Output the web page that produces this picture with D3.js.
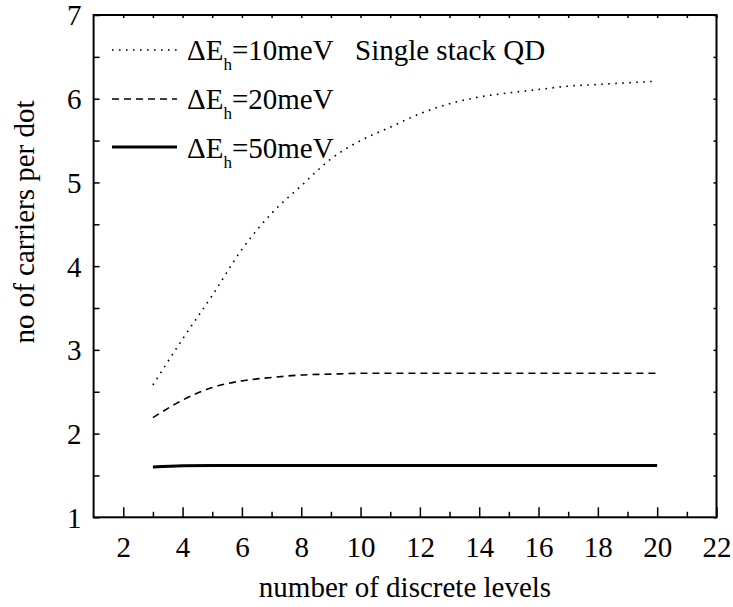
<!DOCTYPE html>
<html>
<head>
<meta charset="utf-8">
<script src="https://cdn.jsdelivr.net/npm/d3@7"></script>
<style>
  body { margin: 0; }
  svg text, svg tspan { font-family: 'Liberation Serif', Tinos, 'Times New Roman', serif !important; }
</style>
</head>
<body>
<svg id="fig" width="733" height="607"></svg>
<script>
// ---- data ----
const levels = [3, 4, 5, 6, 7, 8, 9, 10, 11, 12, 13, 14, 15, 16, 17, 18, 19, 20];
const dE10 = [2.58, 3.13, 3.65, 4.20, 4.63, 4.96, 5.28, 5.50, 5.66, 5.82, 5.94, 6.02, 6.07, 6.11, 6.15, 6.17, 6.19, 6.21];
const dE20 = [2.19, 2.40, 2.55, 2.63, 2.67, 2.70, 2.71, 2.72, 2.72, 2.72, 2.72, 2.72, 2.72, 2.72, 2.72, 2.72, 2.72, 2.72];
const dE50 = [1.60, 1.615, 1.62, 1.62, 1.62, 1.62, 1.62, 1.62, 1.62, 1.62, 1.62, 1.62, 1.62, 1.62, 1.62, 1.62, 1.62, 1.62];
const seriesNames = ["10meV", "20meV", "50meV"];
const xMajorTicks = [2, 4, 6, 8, 10, 12, 14, 16, 18, 20, 22];
const xMinorTicks = [3, 5, 7, 9, 11, 13, 15, 17, 19, 21];
const yMajorTicks = [1, 2, 3, 4, 5, 6, 7];
const yMinorTicks = [1.5, 2.5, 3.5, 4.5, 5.5, 6.5];
const xTitle = "number of discrete levels";
const yTitle = "no of carriers per dot";
const annotation = "Single stack QD";

// ---- layout ----
const FS = 29;
const svg = d3.select("#fig");
const L = 93.6, R = 716.5, T = 15, B = 517.3;
const x = d3.scaleLinear().domain([1, 22]).range([L, R]);
const y = d3.scaleLinear().domain([1, 7]).range([B, T]);
function font(sel, size) {
  return sel.attr("font-size", size || FS)
    .style("font-family", "'Liberation Serif'", "important").attr("fill", "#000");
}

// bottom axis (major + minor, inward ticks)
const gB = svg.append("g").attr("transform", `translate(0,${B})`);
gB.call(d3.axisBottom(x).tickValues(xMajorTicks).tickSize(-10).tickFormat(d3.format("d")));
gB.append("g").call(d3.axisBottom(x).tickValues(xMinorTicks).tickSize(-5.5).tickFormat(""));
// left axis
const gL = svg.append("g").attr("transform", `translate(${L},0)`);
gL.call(d3.axisLeft(y).tickValues(yMajorTicks).tickSize(-6).tickFormat(d3.format("d")));
gL.append("g").call(d3.axisLeft(y).tickValues(yMinorTicks).tickSize(-6).tickFormat(""));
// top axis
const gT = svg.append("g").attr("transform", `translate(0,${T})`);
gT.call(d3.axisTop(x).tickValues(xMajorTicks.concat(xMinorTicks)).tickSize(-3).tickFormat(""));
// right axis
const gR = svg.append("g").attr("transform", `translate(${R},0)`);
gR.call(d3.axisRight(y).tickValues(yMajorTicks.concat(yMinorTicks)).tickSize(-3).tickFormat(""));

svg.selectAll(".domain").remove();
[gB, gL, gT, gR].forEach(g => g.attr("font-family", null).attr("font-size", FS));
svg.selectAll(".tick line").attr("stroke", "#000").attr("stroke-width", 1.5);
font(svg.selectAll(".tick text"));
gB.selectAll(".tick text").attr("dy", null).attr("y", 40);
gL.selectAll(".tick text").attr("x", -12).attr("dy", "0.34em");

// frame
svg.append("rect").attr("x", L).attr("y", T).attr("width", R - L).attr("height", B - T)
  .attr("fill", "none").attr("stroke", "#000").attr("stroke-width", 2);

// series
const styles = [
  { data: dE10, width: 1.6, dash: "1.6,5.4" },
  { data: dE20, width: 1.6, dash: "7,5" },
  { data: dE50, width: 3, dash: null }
];
const line = d3.line().x((d, i) => x(levels[i])).y(d => y(d)).curve(d3.curveMonotoneX);
styles.forEach(s => {
  svg.append("path").datum(s.data).attr("d", line)
    .attr("fill", "none").attr("stroke", "#000").attr("stroke-width", s.width)
    .attr("stroke-dasharray", s.dash);
});

// legend
const legY = [50, 99, 147];
const legTextY = [60, 109, 158];
styles.forEach((s, i) => {
  svg.append("line").attr("x1", 112).attr("x2", 177).attr("y1", legY[i]).attr("y2", legY[i])
    .attr("stroke", "#000").attr("stroke-width", s.width).attr("stroke-dasharray", s.dash);
  const t = font(svg.append("text").attr("x", 187).attr("y", legTextY[i]));
  t.append("tspan").text("\u0394E");
  t.append("tspan").attr("font-size", 17).attr("dy", 10).text("h");
  t.append("tspan").attr("dy", -10).text("=" + seriesNames[i]);
});

font(svg.append("text").attr("x", 355).attr("y", 60)).text(annotation);

// axis titles
font(svg.append("text").attr("x", 405).attr("y", 597).attr("text-anchor", "middle")).text(xTitle);
font(svg.append("text").attr("transform", "translate(34,222) rotate(-90)").attr("text-anchor", "middle")).text(yTitle);
</script>
</body>
</html>
